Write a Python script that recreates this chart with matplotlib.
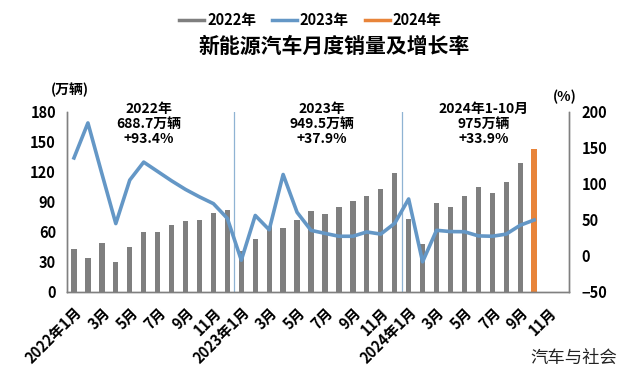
import matplotlib
matplotlib.use("Agg")
import matplotlib.pyplot as plt
from matplotlib.lines import Line2D

plt.rcParams['font.family'] = ['Noto Sans CJK SC', 'DejaVu Sans']

# ---- data ----
months = [f"{y}-{m:02d}" for y in (2022, 2023, 2024) for m in range(1, 13)]
tick_labels = ["2022年1月", "3月", "5月", "7月", "9月", "11月",
               "2023年1月", "3月", "5月", "7月", "9月", "11月",
               "2024年1月", "3月", "5月", "7月", "9月", "11月"]
sales = [43.1, 33.4, 48.4, 29.9, 44.7, 59.6, 59.3, 66.6, 70.8, 71.4, 78.6, 81.4,
         40.8, 52.5, 65.3, 63.6, 71.7, 80.6, 78.0, 84.6, 90.4, 95.6, 102.6, 119.1,
         72.9, 47.7, 88.3, 85.0, 95.5, 104.9, 99.1, 110.0, 128.7, 143.0]
growth = [135.8, 184.4, 114.0, 44.6, 105.0, 130.0, 117.0, 104.0, 92.0, 81.7, 72.3, 51.8,
          -6.3, 55.9, 36.0, 112.8, 60.2, 35.2, 31.0, 27.0, 27.0, 33.0, 30.0, 45.0,
          78.8, -8.5, 35.3, 33.5, 33.3, 27.5, 27.0, 30.0, 42.3, 49.6]
annotations = ["2022年\n688.7万辆\n+93.4%", "2023年\n949.5万辆\n+37.9%", "2024年1-10月\n975万辆\n+33.9%"]

GRAY = "#7f7f7f"
BLUE = "#6497c6"
ORANGE = "#e8843a"
SEP = "#8fb3d3"

fig = plt.figure(figsize=(6.29, 3.73), dpi=100)
ax = fig.add_axes([67/629, 1-291.7/373, (569-67)/629, (291.7-111.7)/373])
ax2 = ax.twinx()

x = list(range(len(sales)))
colors = [GRAY] * (len(sales) - 1) + [ORANGE]
ax.bar(x, sales, width=0.38, color=colors, zorder=2)
ax.set_xlim(-0.5, len(months) - 0.5)
ax.set_ylim(0, 180)
ax.set_yticks(range(0, 181, 30))
ax.set_xticks(range(0, len(months), 2))
ax.set_xticklabels(tick_labels, rotation=45, ha='right', rotation_mode='anchor',
                   fontsize=10.5, fontweight='bold')
ax.tick_params(axis='x', length=0, pad=9)
ax.tick_params(axis='y', length=0, pad=8, labelsize=10.5)
for lab in ax.get_yticklabels():
    lab.set_fontweight('bold')

for b in (11.5, 23.5):
    ax.axvline(b, color=SEP, lw=0.9, zorder=1)

ax2.plot(x, growth, color=BLUE, lw=2.6, zorder=3)
ax2.set_ylim(-50, 200)
ax2.set_yticks(range(-50, 201, 50))
ax2.tick_params(axis='y', length=0, pad=9, labelsize=10.5)
for lab in ax2.get_yticklabels():
    lab.set_fontweight('bold')

for a in (ax, ax2):
    a.spines['top'].set_visible(False)
    for s in ('left', 'right', 'bottom'):
        a.spines[s].set_color('#808080')
        a.spines[s].set_linewidth(1.0)

for xc, txt in zip((5.35, 17.8, 29.4), annotations):
    ax.text(xc, 167.5, txt, ha='center', va='center', fontsize=10,
            fontweight='bold', linespacing=1.1, zorder=5)

fig.text(334/629, 1-46/373, "新能源汽车月度销量及增长率", ha='center', va='center',
         fontsize=15, fontweight='bold')
fig.text(69.5/629, 1-90/373, "(万辆)", ha='center', va='center', fontsize=10, fontweight='bold')
fig.text(564.5/629, 1-97/373, "(%)", ha='center', va='center', fontsize=10, fontweight='bold')
fig.text(573.5/629, 1-358/373, "汽车与社会", ha='center', va='center', fontsize=12.5,
         color='#222222')

handles = [Line2D([], [], color=GRAY, lw=2.5), Line2D([], [], color=BLUE, lw=2.5),
           Line2D([], [], color=ORANGE, lw=2.5)]
leg = fig.legend(handles, ["2022年", "2023年", "2024年"], loc='center',
                 bbox_to_anchor=(310.5/629, 1-20/373), ncol=3, frameon=False,
                 handlelength=1.7, handletextpad=0.2, columnspacing=1.1,
                 prop={'weight': 'bold', 'size': 10.5})

fig.savefig("out.png", dpi=100)
